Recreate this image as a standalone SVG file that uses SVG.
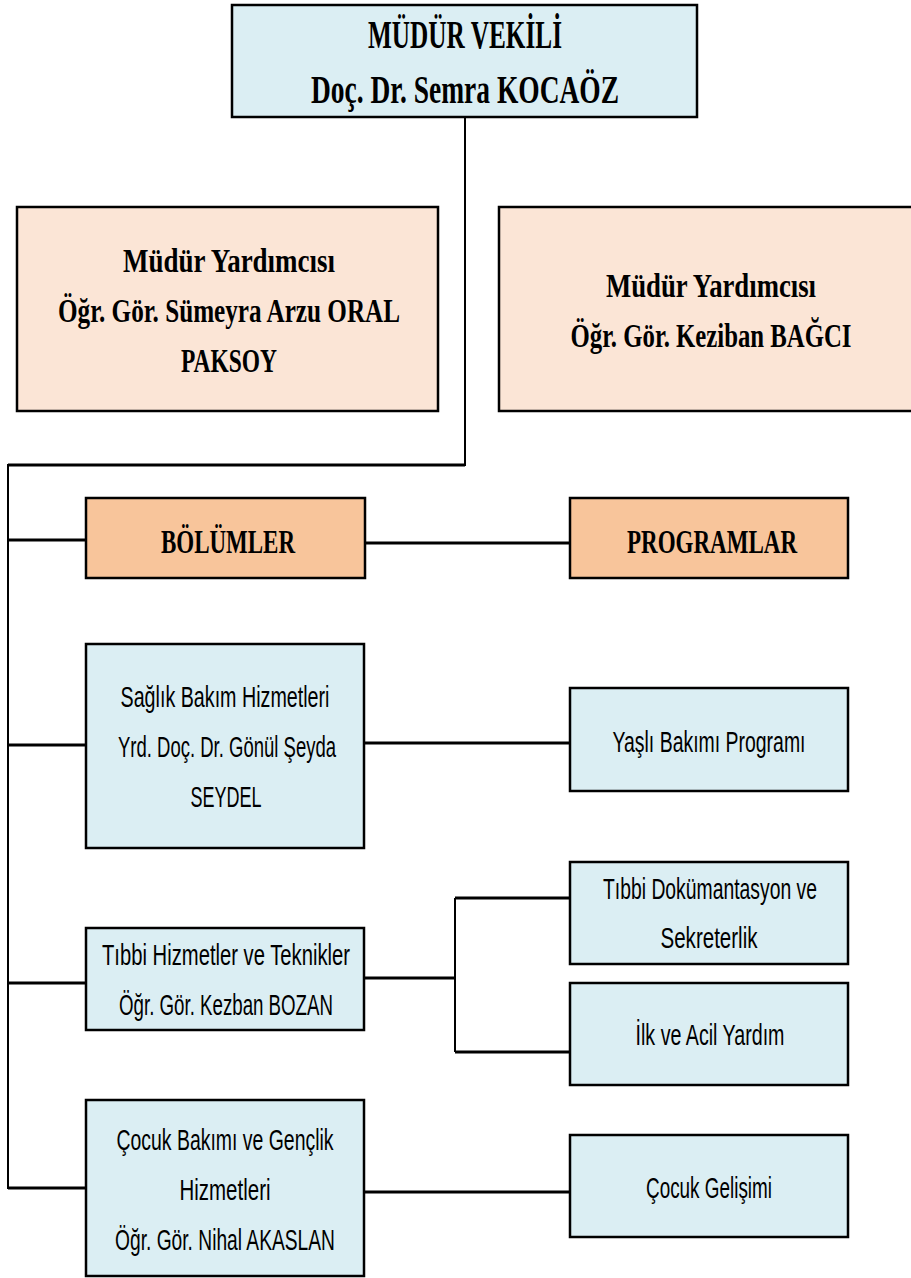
<svg xmlns="http://www.w3.org/2000/svg" width="911" height="1278" viewBox="0 0 911 1278">
<style>
.bx{stroke:#000;stroke-width:2.5}
.blue{fill:#dbeef3}
.peach{fill:#fbe5d6}
.orange{fill:#f8c59b}
.h{font-family:"Liberation Serif","DejaVu Serif",serif;font-weight:bold;fill:#000;text-anchor:middle}
.t{font-family:"Liberation Sans","DejaVu Sans",sans-serif;fill:#000;text-anchor:middle;font-size:29px}
.c{fill:none;stroke:#000;stroke-width:3}
.c2{fill:none;stroke:#000;stroke-width:2}
</style>
<rect width="911" height="1278" fill="#fff"/>
<g id="connectors">
<polyline class="c2" points="465,117 465,465 8,465 8,1188 86,1188"/>
<line class="c" x1="8" y1="465" x2="465" y2="465"/>
<line class="c" x1="8" y1="540" x2="86" y2="540"/>
<line class="c" x1="365" y1="543" x2="570" y2="543"/>
<line class="c" x1="8" y1="745" x2="86" y2="745"/>
<line class="c" x1="364" y1="743" x2="570" y2="743"/>
<line class="c" x1="8" y1="983" x2="86" y2="983"/>
<line class="c" x1="364" y1="978" x2="455" y2="978"/>
<line class="c2" x1="455" y1="898" x2="455" y2="1052"/>
<line class="c" x1="455" y1="898" x2="570" y2="898"/>
<line class="c" x1="455" y1="1052" x2="570" y2="1052"/>
<line class="c" x1="364" y1="1192" x2="570" y2="1192"/>
<line class="c" x1="8" y1="1188" x2="86" y2="1188"/>
</g>
<g id="mudur-vekili">
<rect class="bx blue" x="232" y="5" width="465" height="112"/>
<text class="h" x="465" y="48" font-size="39" textLength="194" lengthAdjust="spacingAndGlyphs">MÜDÜR VEKİLİ</text>
<text class="h" x="465" y="103" font-size="39" textLength="308" lengthAdjust="spacingAndGlyphs">Doç. Dr. Semra KOCAÖZ</text>
</g>
<g id="yardimci-1">
<rect class="bx peach" x="17" y="207" width="421" height="204"/>
<text class="h" x="229" y="272" font-size="33" textLength="212" lengthAdjust="spacingAndGlyphs">Müdür Yardımcısı</text>
<text class="h" x="229" y="322" font-size="33" textLength="342" lengthAdjust="spacingAndGlyphs">Öğr. Gör. Sümeyra Arzu ORAL</text>
<text class="h" x="229" y="372" font-size="33" textLength="96" lengthAdjust="spacingAndGlyphs">PAKSOY</text>
</g>
<g id="yardimci-2">
<rect class="bx peach" x="499" y="207" width="414" height="204"/>
<text class="h" x="711" y="297" font-size="33" textLength="210" lengthAdjust="spacingAndGlyphs">Müdür Yardımcısı</text>
<text class="h" x="711" y="347" font-size="33" textLength="281" lengthAdjust="spacingAndGlyphs">Öğr. Gör. Keziban BAĞCI</text>
</g>
<g id="bolumler">
<rect class="bx orange" x="86" y="498" width="279" height="80"/>
<text class="h" x="228" y="553" font-size="34" textLength="134" lengthAdjust="spacingAndGlyphs">BÖLÜMLER</text>
</g>
<g id="programlar">
<rect class="bx orange" x="570" y="498" width="278" height="80"/>
<text class="h" x="712" y="553" font-size="34" textLength="170" lengthAdjust="spacingAndGlyphs">PROGRAMLAR</text>
</g>
<g id="saglik">
<rect class="bx blue" x="86" y="644" width="278" height="204"/>
<text class="t" x="225" y="707" textLength="209" lengthAdjust="spacingAndGlyphs">Sağlık Bakım Hizmetleri</text>
<text class="t" x="227" y="757" textLength="218" lengthAdjust="spacingAndGlyphs">Yrd. Doç. Dr. Gönül Şeyda</text>
<text class="t" x="226" y="807" textLength="71" lengthAdjust="spacingAndGlyphs">SEYDEL</text>
</g>
<g id="yasli">
<rect class="bx blue" x="570" y="688" width="278" height="103"/>
<text class="t" x="709" y="752" textLength="193" lengthAdjust="spacingAndGlyphs">Yaşlı Bakımı Programı</text>
</g>
<g id="tibbi-hizmetler">
<rect class="bx blue" x="86" y="928" width="278" height="102"/>
<text class="t" x="226" y="965" textLength="248" lengthAdjust="spacingAndGlyphs">Tıbbi Hizmetler ve Teknikler</text>
<text class="t" x="226" y="1015" textLength="214" lengthAdjust="spacingAndGlyphs">Öğr. Gör. Kezban BOZAN</text>
</g>
<g id="tibbi-dokumantasyon">
<rect class="bx blue" x="570" y="862" width="278" height="102"/>
<text class="t" x="710" y="899" textLength="214" lengthAdjust="spacingAndGlyphs">Tıbbi Dokümantasyon ve</text>
<text class="t" x="709" y="948" textLength="97" lengthAdjust="spacingAndGlyphs">Sekreterlik</text>
</g>
<g id="ilk-acil">
<rect class="bx blue" x="570" y="983" width="278" height="102"/>
<text class="t" x="710" y="1045" textLength="149" lengthAdjust="spacingAndGlyphs">İlk ve Acil Yardım</text>
</g>
<g id="cocuk-bakimi">
<rect class="bx blue" x="86" y="1100" width="278" height="176"/>
<text class="t" x="225" y="1150" textLength="217" lengthAdjust="spacingAndGlyphs">Çocuk Bakımı ve Gençlik</text>
<text class="t" x="225" y="1200" textLength="91" lengthAdjust="spacingAndGlyphs">Hizmetleri</text>
<text class="t" x="225" y="1250" textLength="220" lengthAdjust="spacingAndGlyphs">Öğr. Gör. Nihal AKASLAN</text>
</g>
<g id="cocuk-gelisimi">
<rect class="bx blue" x="570" y="1135" width="278" height="102"/>
<text class="t" x="709" y="1198" textLength="126" lengthAdjust="spacingAndGlyphs">Çocuk Gelişimi</text>
</g>
</svg>
